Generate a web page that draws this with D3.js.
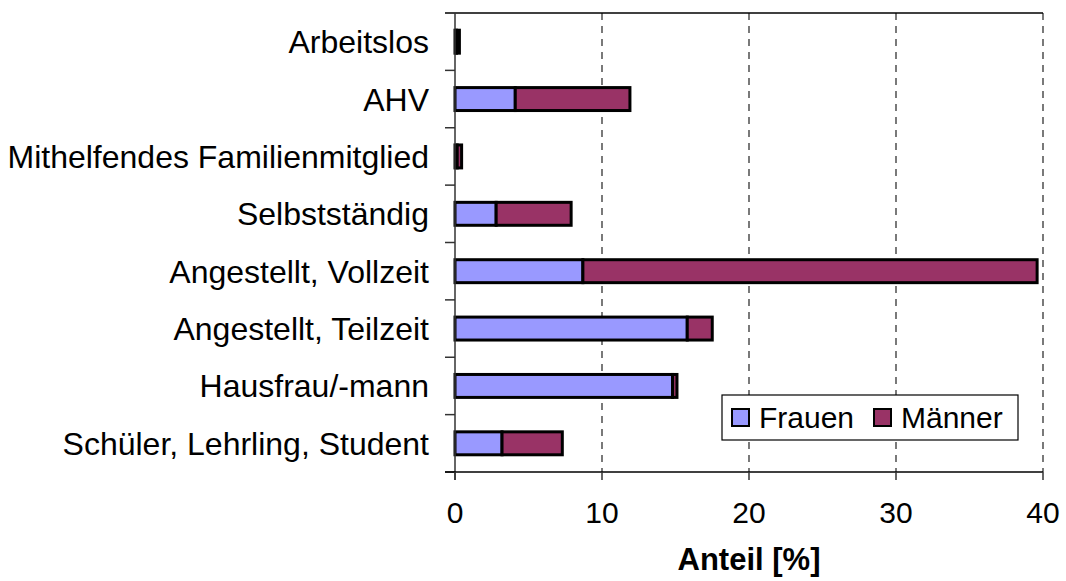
<!DOCTYPE html>
<html>
  <head>
    <title>Anteil nach Erwerbsstatus</title>
    <script src="https://cdn.jsdelivr.net/npm/d3@7/dist/d3.min.js"></script>
    <style>
      body { margin: 0; background: #fff; }
      text { font-family: "Liberation Sans", Arial, sans-serif; fill: #000; }
    </style>
  </head>
  <body>
    <svg width="1066" height="581"></svg>
    <script>

      // data (top to bottom)
      const categories = [
        "Arbeitslos",
        "AHV",
        "Mithelfendes Familienmitglied",
        "Selbstständig",
        "Angestellt, Vollzeit",
        "Angestellt, Teilzeit",
        "Hausfrau/-mann",
        "Schüler, Lehrling, Student"
      ];
      const frauen = [0.1, 4.1, 0.15, 2.8, 8.7, 15.8, 14.8, 3.2];
      const maenner = [0.2, 7.8, 0.3, 5.1, 30.9, 1.7, 0.3, 4.1];
      const seriesNames = ["Frauen", "Männer"];
      const xTicks = [0, 10, 20, 30, 40];

      const colors = d3.scaleOrdinal()
              .domain(seriesNames)
              .range(["#9999ff", "#993366"]);

      const svg = d3.select("svg");
      const plotLeft = 455, plotRight = 1043, plotTop = 13, plotBottom = 472;

      const x = d3.scaleLinear().domain([0, 40]).range([plotLeft, plotRight]);
      const y = d3.scaleBand()
              .domain(categories)
              .range([plotTop, plotBottom])
              .paddingInner(0.6)
              .paddingOuter(0.3);

      const rows = categories.map((c, i) => ({cat: c, Frauen: frauen[i], "Männer": maenner[i]}));
      const stacked = d3.stack().keys(seriesNames)(rows);

      // dashed gridlines
      svg.append("g")
        .selectAll("line")
        .data(xTicks.filter(d => d > 0))
        .enter().append("line")
          .attr("x1", d => x(d)).attr("x2", d => x(d))
          .attr("y1", plotTop).attr("y2", plotBottom)
          .attr("stroke", "#333")
          .attr("stroke-width", 1.3)
          .attr("stroke-dasharray", "7,6");

      // top border
      svg.append("line")
        .attr("x1", plotLeft - 10).attr("x2", plotRight)
        .attr("y1", plotTop).attr("y2", plotTop)
        .attr("stroke", "#000").attr("stroke-width", 1.5);

      // bars
      svg.append("g")
        .selectAll("g")
        .data(stacked)
        .enter().append("g")
          .attr("fill", d => colors(d.key))
        .selectAll("rect")
        .data(d => d)
        .enter().append("rect")
          .attr("x", d => x(d[0]))
          .attr("y", d => y(d.data.cat))
          .attr("width", d => x(d[1]) - x(d[0]))
          .attr("height", y.bandwidth())
          .attr("stroke", "#000")
          .attr("stroke-width", 3);

      // y axis
      const yAxis = svg.append("g");
      yAxis.append("line")
        .attr("x1", plotLeft).attr("x2", plotLeft)
        .attr("y1", plotTop).attr("y2", plotBottom + 8)
        .attr("stroke", "#333").attr("stroke-width", 1.5);
      const bounds = categories.map(c => y(c) - y.step() * y.paddingInner() / 2).concat([plotBottom]);
      yAxis.selectAll(".tk")
        .data(bounds.slice(1))
        .enter().append("line")
          .attr("x1", plotLeft - 10).attr("x2", plotLeft)
          .attr("y1", d => d).attr("y2", d => d)
          .attr("stroke", "#333").attr("stroke-width", 1.5);
      yAxis.selectAll("text")
        .data(categories)
        .enter().append("text")
          .attr("x", 429)
          .attr("y", d => y(d) + y.bandwidth() / 2)
          .attr("dy", "0.36em")
          .attr("text-anchor", "end")
          .attr("font-size", 32)
          .text(d => d);

      // x axis
      const xAxis = svg.append("g");
      xAxis.append("line")
        .attr("x1", plotLeft - 10).attr("x2", plotRight)
        .attr("y1", plotBottom).attr("y2", plotBottom)
        .attr("stroke", "#000").attr("stroke-width", 1.5);
      xAxis.selectAll(".tk")
        .data(xTicks)
        .enter().append("line")
          .attr("x1", d => x(d)).attr("x2", d => x(d))
          .attr("y1", plotBottom).attr("y2", plotBottom + 8)
          .attr("stroke", "#333").attr("stroke-width", 1.5);
      xAxis.selectAll("text")
        .data(xTicks)
        .enter().append("text")
          .attr("x", d => x(d))
          .attr("y", 523)
          .attr("text-anchor", "middle")
          .attr("font-size", 30)
          .text(d => d);

      svg.append("text")
        .attr("x", 749)
        .attr("y", 570)
        .attr("text-anchor", "middle")
        .attr("font-size", 31)
        .attr("font-weight", "bold")
        .text("Anteil [%]");

      // legend
      const legend = svg.append("g");
      legend.append("rect")
        .attr("x", 722).attr("y", 395)
        .attr("width", 296).attr("height", 45)
        .attr("fill", "#fff")
        .attr("stroke", "#000").attr("stroke-width", 1.2);
      const legX = [732, 874];
      const items = legend.selectAll(".item")
        .data(seriesNames)
        .enter().append("g");
      items.append("rect")
        .attr("x", (d, i) => legX[i]).attr("y", 409)
        .attr("width", 17).attr("height", 17)
        .attr("fill", d => colors(d))
        .attr("stroke", "#000").attr("stroke-width", 2);
      items.append("text")
        .attr("x", (d, i) => legX[i] + 27)
        .attr("y", 428)
        .attr("font-size", 30)
        .text(d => d);

    </script>
  </body>
</html>
